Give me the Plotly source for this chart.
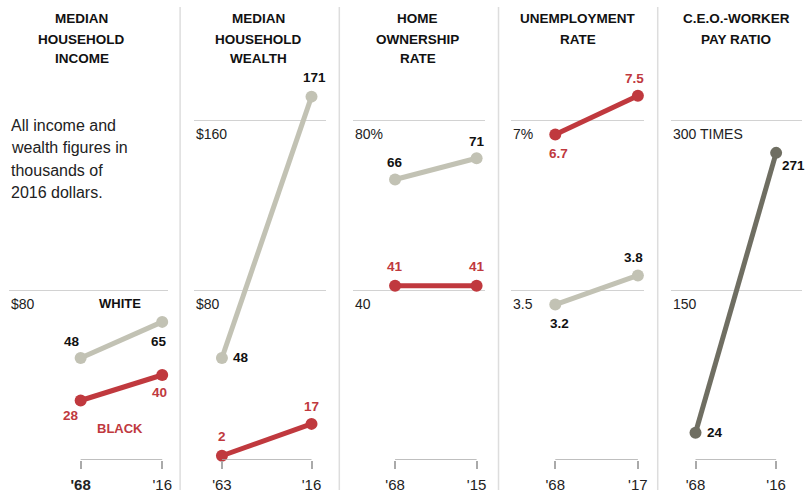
import plotly.graph_objects as go

# ---------------- data ----------------
income_years = [1968, 2016]
income_year_labels = ["<b>'68</b>", "'16"]
income_white = [48, 65]
income_black = [28, 40]
income_ticks = [80]
income_tick_labels = ["$80"]

wealth_years = [1963, 2016]
wealth_year_labels = ["'63", "'16"]
wealth_white = [48, 171]
wealth_black = [2, 17]
wealth_ticks = [80, 160]
wealth_tick_labels = ["$80", "$160"]

home_years = [1968, 2015]
home_year_labels = ["'68", "'15"]
home_white = [66, 71]
home_black = [41, 41]
home_ticks = [40, 80]
home_tick_labels = ["40", "80%"]

unemp_years = [1968, 2017]
unemp_year_labels = ["'68", "'17"]
unemp_white = [3.2, 3.8]
unemp_black = [6.7, 7.5]
unemp_ticks = [3.5, 7]
unemp_tick_labels = ["3.5", "7%"]

ceo_years = [1968, 2016]
ceo_year_labels = ["'68", "'16"]
ceo_ratio = [24, 271]
ceo_ticks = [150, 300]
ceo_tick_labels = ["150", "300 TIMES"]

titles = [
    ["MEDIAN", "HOUSEHOLD", "INCOME"],
    ["MEDIAN", "HOUSEHOLD", "WEALTH"],
    ["HOME", "OWNERSHIP", "RATE"],
    ["UNEMPLOYMENT", "RATE"],
    ["C.E.O.-WORKER", "PAY RATIO"],
]
note_lines = ["All income and", "wealth figures in", "thousands of", "2016 dollars."]
series_names = ["WHITE", "BLACK"]

# ---------------- style ----------------
W, H = 806, 493
FONT = "Liberation Sans, Arial, sans-serif"
GRAY = "#c2c2b4"
RED = "#c0393e"
DARK = "#6f6e62"
GRID = "#d2d2d2"
SEP = "#dddddd"
TXT = "#222222"


def px(x):
    return x / W


def py(y):
    return 1 - y / H


# panel geometry: gridline span in pixels, x range in years, header centre
panels = [
    dict(years=income_years, ylabels=income_year_labels, series=[(income_white, GRAY, "#111"), (income_black, RED, RED)],
         ticks=income_ticks, tlabels=income_tick_labels, top=160, xpix=(9, 169), xr=(1925.8, 2019.5), hc=82,
         offs=[[(-9, -17, "center"), (-3, 20, "center")], [(-9.5, 15, "center"), (-3, 17, "center")]]),
    dict(years=wealth_years, ylabels=wealth_year_labels, series=[(wealth_white, GRAY, "#111"), (wealth_black, RED, RED)],
         ticks=wealth_ticks, tlabels=wealth_tick_labels, top=160, xpix=(195, 328), xr=(1946.5, 2024.8), hc=260,
         offs=[[(9, -1, "left"), (3, -19, "center")], [(0, -19, "center"), (0, -17, "center")]]),
    dict(years=home_years, ylabels=home_year_labels, series=[(home_white, GRAY, "#111"), (home_black, RED, RED)],
         ticks=home_ticks, tlabels=home_tick_labels, top=80, xpix=(355, 487), xr=(1943.9, 2019.6), hc=420,
         offs=[[(0, -17, "center"), (0, -17, "center")], [(0, -19, "center"), (0, -19, "center")]]),
    dict(years=unemp_years, ylabels=unemp_year_labels, series=[(unemp_white, GRAY, "#111"), (unemp_black, RED, RED)],
         ticks=unemp_ticks, tlabels=unemp_tick_labels, top=7, xpix=(514, 647), xr=(1942.0, 2020.5), hc=581,
         offs=[[(4, 19, "center"), (-4, -18, "center")], [(3, 19, "center"), (-3, -17, "center")]]),
    dict(years=ceo_years, ylabels=ceo_year_labels, series=[(ceo_ratio, DARK, "#111")],
         ticks=ceo_ticks, tlabels=ceo_tick_labels, top=300, xpix=(674, 806), xr=(1953.2, 2031.4), hc=740,
         offs=[[(9, 0, "left"), (4, 13, "left")]]),
]

Y_ZERO, Y_TOPPIX, Y_GRIDTOP = 460, 80, 120

fig = go.Figure()
annotations = []
shapes = []

for i, p in enumerate(panels):
    n = i + 1
    xa = "x" if n == 1 else f"x{n}"
    ya = "y" if n == 1 else f"y{n}"
    xkey = "xaxis" if n == 1 else f"xaxis{n}"
    ykey = "yaxis" if n == 1 else f"yaxis{n}"
    ytop = p["top"] * (Y_ZERO - Y_TOPPIX) / (Y_ZERO - Y_GRIDTOP)

    for si, (vals, col, lcol) in enumerate(p["series"]):
        fig.add_trace(go.Scatter(
            x=p["years"], y=vals, mode="lines+markers", xaxis=xa, yaxis=ya,
            line=dict(color=col, width=5), marker=dict(color=col, size=12),
            cliponaxis=False, showlegend=False, hoverinfo="skip"))
        for k, v in enumerate(vals):
            dx, dy, anc = p["offs"][si][k]
            annotations.append(dict(
                x=p["years"][k], y=v, xref=xa, yref=ya, text=f"<b>{v:g}</b>", showarrow=False,
                xanchor=anc, yanchor="middle", xshift=dx, yshift=-dy,
                font=dict(family=FONT, size=13.5, color=lcol)))

    fig.update_layout(**{
        xkey: dict(domain=[px(p["xpix"][0]), px(p["xpix"][1])], range=list(p["xr"]),
                   tickvals=p["years"], ticktext=p["ylabels"], ticks="outside", ticklen=8,
                   tickcolor="#aaaaaa", tickwidth=1.5, showgrid=False, zeroline=False, showline=False,
                   tickfont=dict(family=FONT, size=15, color=TXT), anchor=ya, fixedrange=True,
                   ticklabelstandoff=3),
        ykey: dict(domain=[py(Y_ZERO), py(Y_TOPPIX)], range=[0, ytop], tickvals=p["ticks"],
                   showticklabels=False, showgrid=True, gridcolor=GRID, gridwidth=1, zeroline=False,
                   ticks="", anchor=xa, fixedrange=True),
    })

    # bracket baseline between the two years
    shapes.append(dict(type="line", xref=xa, yref=ya, x0=p["years"][0], x1=p["years"][-1], y0=0, y1=0,
                       line=dict(color="#aaaaaa", width=1.5)))

    # y tick labels under gridlines
    for tv, tl in zip(p["ticks"], p["tlabels"]):
        annotations.append(dict(x=0, xref=f"{xa} domain", y=tv, yref=ya, text=tl, showarrow=False,
                                xanchor="left", yanchor="top", yshift=-4,
                                font=dict(family=FONT, size=14, color=TXT)))

    # header
    for li, line in enumerate(titles[i]):
        annotations.append(dict(x=px(p["hc"]), y=py(19 + 20 * li), xref="paper", yref="paper",
                                text=f"<b>{line}</b>", showarrow=False, xanchor="center", yanchor="middle",
                                font=dict(family=FONT, size=13.5, color="#111")))

# note text
for li, line in enumerate(note_lines):
    annotations.append(dict(x=px(9), y=py(125 + 22.5 * li), xref="paper", yref="paper", text=line,
                            showarrow=False, xanchor="left", yanchor="middle",
                            font=dict(family=FONT, size=16, color=TXT)))

# series names
annotations.append(dict(x=px(121), y=py(303), xref="paper", yref="paper", text=f"<b>{series_names[0]}</b>",
                        showarrow=False, xanchor="center", yanchor="middle",
                        font=dict(family=FONT, size=13, color="#111")))
annotations.append(dict(x=px(121), y=py(428), xref="paper", yref="paper", text=f"<b>{series_names[1]}</b>",
                        showarrow=False, xanchor="center", yanchor="middle",
                        font=dict(family=FONT, size=13, color=RED)))

# separators
for sx in [181, 341, 501, 661]:
    shapes.append(dict(type="line", xref="paper", yref="paper", x0=px(sx), x1=px(sx), y0=py(490), y1=py(7),
                       line=dict(color=SEP, width=1.5)))

fig.update_layout(width=W, height=H, margin=dict(l=0, r=0, t=0, b=0), paper_bgcolor="white",
                  plot_bgcolor="white", annotations=annotations, shapes=shapes, showlegend=False)

fig.write_html("out.html", config={"displayModeBar": False},
               post_script="document.body.style.margin='0';document.body.style.overflow='hidden';")
